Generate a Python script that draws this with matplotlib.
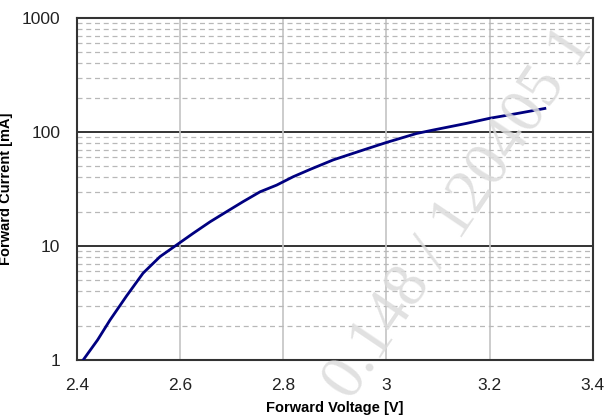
import numpy as np
import matplotlib.pyplot as plt
from matplotlib import ticker

plt.rcParams['font.family'] = ['Liberation Sans', 'DejaVu Sans']

# forward characteristic
voltage = [2.412, 2.44, 2.464, 2.496, 2.528, 2.561, 2.593, 2.625, 2.658, 2.690,
           2.722, 2.755, 2.787, 2.819, 2.852, 2.897, 2.961, 3.0, 3.058, 3.09,
           3.155, 3.2, 3.252, 3.307]
current = [1.0, 1.5, 2.24, 3.64, 5.77, 8.07, 10.2, 12.9, 16.3, 20.0,
           24.5, 29.9, 34.2, 40.5, 47.0, 57.0, 71.0, 81.0, 97.0, 104.0,
           119.0, 132.0, 145.0, 161.0]

xticks = [2.4, 2.6, 2.8, 3.0, 3.2, 3.4]
xticklabels = ['2.4', '2.6', '2.8', '3', '3.2', '3.4']
yticks = [1, 10, 100, 1000]
yticklabels = ['1', '10', '100', '1000']

fig = plt.figure(figsize=(6.04, 4.2), dpi=100)
ax = fig.add_axes([0.1275, 0.143, 0.854, 0.814])

ax.set_yscale('log')
ax.set_xlim(2.4, 3.4)
ax.set_ylim(1, 1000)

# minor decade lines dashed, major decades solid dark
ax.yaxis.set_minor_locator(ticker.LogLocator(base=10, subs=np.arange(2, 10)))
ax.yaxis.set_minor_formatter(ticker.NullFormatter())
ax.grid(which='minor', axis='y', color='#b8b8b8', linestyle=(0, (4, 3)), linewidth=0.9)
for v in [10, 100]:
    ax.axhline(v, color='#333333', linewidth=1.4, zorder=1)
for v in xticks[1:-1]:
    ax.axvline(v, color='#c4c4c4', linewidth=1.2, zorder=1)

ax.plot(voltage, current, color='#000080', linewidth=2.0, zorder=3)

ax.set_xticks(xticks)
ax.set_xticklabels(xticklabels)
ax.set_yticks(yticks)
ax.set_yticklabels(yticklabels)
ax.tick_params(which='both', length=0, labelsize=12.5, colors='#222222')
ax.tick_params(axis='x', pad=13)
ax.tick_params(axis='y', pad=12)
ax.tick_params(which='minor', length=0)

for s in ax.spines.values():
    s.set_linewidth(1.5)
    s.set_color('#333333')

ax.set_xlabel('Forward Voltage [V]', fontsize=10.5, fontweight='bold', labelpad=6)
ax.set_ylabel('Forward Current [mA]', fontsize=10.5, fontweight='bold')
ax.yaxis.set_label_coords(-0.125, 0.5)

# faint diagonal stamp across the plot
fig.text(0.76, 0.49, '0.148 / 120405 1', fontsize=46, family='Liberation Serif',
         color='#dcdcdc', rotation=56, ha='center', va='center', zorder=5,
         alpha=0.85)

fig.savefig('out.png', dpi=100)
